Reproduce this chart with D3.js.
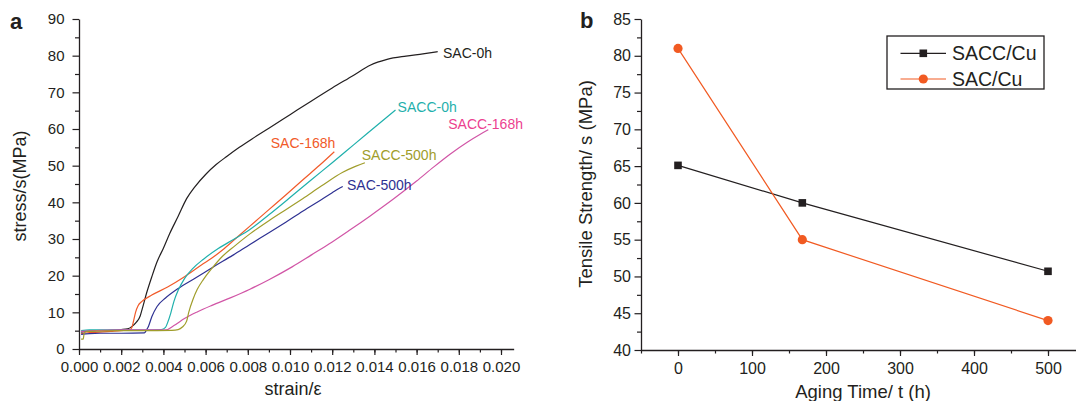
<!DOCTYPE html>
<html>
<head>
<meta charset="utf-8">
<script src="https://cdn.jsdelivr.net/npm/d3@7/dist/d3.min.js"></script>
<style>
  html, body { margin: 0; padding: 0; background: #fff; }
  svg { display: block; font-family: "Liberation Sans", Arial, sans-serif; }
</style>
</head>
<body>
<svg id="chart" width="1076" height="401"></svg>
<script>
// ---------- Panel a data: stress-strain curves [strain, stress(MPa)] ----------
const sac0h = [[0.0001,4.6],[0.0005,4.9],[0.001,5.0],[0.0015,5.1],[0.002,5.3],[0.0023,5.5],[0.0025,6.1],[0.0027,7.2],[0.0029,9.0],[0.0030,11.0],[0.0032,15.2],[0.00345,19.7],[0.0037,23.8],[0.004,27.5],[0.0043,31.5],[0.0047,36.2],[0.0051,41.0],[0.0055,44.3],[0.006,47.6],[0.0065,50.3],[0.007,52.5],[0.0076,55.0],[0.0082,57.3],[0.009,60.2],[0.01,63.9],[0.011,67.6],[0.012,71.2],[0.013,74.6],[0.0138,77.4],[0.0146,79.0],[0.0155,79.9],[0.0163,80.5],[0.017,81.1]];
const sac168h = [[0.0001,4.2],[0.0005,4.5],[0.001,4.6],[0.0015,4.8],[0.002,5.0],[0.0024,5.2],[0.0025,5.8],[0.00258,7.5],[0.00268,10.0],[0.0028,11.8],[0.00297,12.9],[0.00345,14.7],[0.0042,16.9],[0.005,19.7],[0.0058,22.9],[0.0063,24.8],[0.0068,27.0],[0.0074,30.0],[0.0081,33.5],[0.009,38.0],[0.0098,42.0],[0.0106,46.1],[0.0114,50.1],[0.0121,53.8]];
const sac500h = [[0.0001,4.0],[0.0005,4.2],[0.001,4.3],[0.002,4.3],[0.0031,4.4],[0.0032,5.2],[0.0033,6.3],[0.00345,8.8],[0.0037,11.6],[0.0041,13.9],[0.0047,16.5],[0.0055,19.3],[0.0064,22.5],[0.0073,25.6],[0.0081,28.5],[0.009,31.7],[0.0098,34.6],[0.0106,37.6],[0.0115,40.8],[0.012,42.6],[0.0123,43.7],[0.0125,44.3]];
const sacc0h = [[0.0001,5.0],[0.0005,5.2],[0.001,5.2],[0.002,5.2],[0.003,5.2],[0.0039,5.3],[0.0041,5.9],[0.0042,7.2],[0.00435,9.8],[0.0045,13.0],[0.0047,16.0],[0.005,19.2],[0.0054,22.0],[0.0059,24.5],[0.0066,27.4],[0.0073,29.8],[0.0081,32.6],[0.009,36.6],[0.01,41.3],[0.011,46.1],[0.012,50.8],[0.013,55.6],[0.014,60.4],[0.015,65.2]];
const sacc168h = [[0.0001,4.8],[0.001,5.1],[0.002,5.2],[0.003,5.2],[0.0041,5.2],[0.0045,6.4],[0.005,8.3],[0.0056,10.1],[0.0063,11.9],[0.0072,14.0],[0.0081,16.3],[0.009,18.9],[0.0101,22.4],[0.011,25.6],[0.012,29.2],[0.0128,32.3],[0.0138,36.3],[0.0149,40.9],[0.016,45.8],[0.0168,49.6],[0.0176,53.2],[0.0184,56.4],[0.019,58.5],[0.0194,59.8]];
const sacc500h = [[0.0001,2.7],[0.0002,2.7],[0.00025,4.4],[0.0004,4.8],[0.001,4.9],[0.002,5.0],[0.003,5.0],[0.0044,5.1],[0.0047,5.3],[0.0049,6.0],[0.0051,7.6],[0.0052,10.0],[0.0054,13.5],[0.0056,16.2],[0.0059,19.0],[0.0063,22.0],[0.0068,25.3],[0.0074,28.2],[0.0081,31.4],[0.009,35.0],[0.0098,38.0],[0.0106,41.0],[0.0115,44.5],[0.0125,48.2],[0.0131,49.8],[0.01355,50.8]];

const curveNames  = ["SAC-0h","SAC-168h","SAC-500h","SACC-0h","SACC-168h","SACC-500h"];
const curveData   = [sac0h, sac168h, sac500h, sacc0h, sacc168h, sacc500h];
const curveColors = ["#231f20","#f15a29","#2e3192","#1fb0ac","#d155a6","#a09d2b"];
const labelColors = ["#231f20","#f15a29","#2e3192","#1fb0ac","#ec3f8f","#a09d2b"];
// label anchor positions in data units [strain, stress], plus text anchor
const labelStrain = [0.01725, 0.01215, 0.01270, 0.01510, 0.01750, 0.01340];
const labelStress = [80.6, 56.2, 44.7, 66.0, 61.3, 53.0];
const labelAnchor = ["start","end","start","start","start","start"];

const strainTicks = [0.000,0.002,0.004,0.006,0.008,0.010,0.012,0.014,0.016,0.018,0.020];
const stressTicks = [0,10,20,30,40,50,60,70,80,90];

// ---------- Panel b data ----------
const agingTime = [0, 168, 500];
const saccCu = [65.1, 60.0, 50.7];
const sacCu  = [81.0, 55.0, 44.0];
const seriesNames = ["SACC/Cu","SAC/Cu"];
const timeTicks = [0,100,200,300,400,500];
const strengthTicks = [40,45,50,55,60,65,70,75,80,85];

const ink = "#231f20";
const svg = d3.select("#chart");

// ================= Panel a =================
const xA = d3.scaleLinear().domain([0, 0.0206]).range([79, 79 + 0.0206 * 21100]);
const yA = d3.scaleLinear().domain([0, 90]).range([349, 19]);
const gA = svg.append("g");

function styleAxis(g, fs) {
  g.select(".domain").attr("stroke", ink).attr("stroke-width", 1.3);
  g.selectAll(".tick line").attr("stroke", ink).attr("stroke-width", 1.2);
  g.selectAll(".tick text").attr("fill", ink).style("font-size", fs + "px");
}

// minor ticks
gA.append("g").attr("transform", "translate(0,349)")
  .call(d3.axisBottom(xA).tickValues(d3.range(0, 0.0206, 0.001)).tickSize(3.5).tickFormat(""))
  .call(g => { g.select(".domain").remove(); g.selectAll("line").attr("stroke", ink).attr("stroke-width", 1.2); });
gA.append("g").attr("transform", "translate(79,0)")
  .call(d3.axisLeft(yA).tickValues(d3.range(5, 90, 10)).tickSize(4).tickFormat(""))
  .call(g => { g.select(".domain").remove(); g.selectAll("line").attr("stroke", ink).attr("stroke-width", 1.2); });

gA.append("g").attr("transform", "translate(0,349)")
  .call(d3.axisBottom(xA).tickValues(strainTicks).tickFormat(d3.format(".3f")).tickSize(6).tickSizeOuter(0).tickPadding(6))
  .call(g => styleAxis(g, 15));
gA.append("g").attr("transform", "translate(79,0)")
  .call(d3.axisLeft(yA).tickValues(stressTicks).tickSize(6.5).tickSizeOuter(0).tickPadding(8))
  .call(g => styleAxis(g, 15));

const lineA = d3.line().x(d => xA(d[0])).y(d => yA(d[1])).curve(d3.curveMonotoneX);
curveData.forEach((data, i) => {
  gA.append("path").datum(data)
    .attr("fill", "none").attr("stroke", curveColors[i]).attr("stroke-width", 1.2)
    .attr("stroke-linejoin", "round").attr("d", lineA);
});
curveNames.forEach((name, i) => {
  gA.append("text").attr("x", xA(labelStrain[i])).attr("y", yA(labelStress[i]))
    .attr("dy", "0.35em").attr("text-anchor", labelAnchor[i])
    .attr("fill", labelColors[i]).style("font-size", "14px").text(name);
});

gA.append("text").attr("x", 293).attr("y", 395).attr("text-anchor", "middle")
  .attr("fill", ink).style("font-size", "18px").text("strain/ε");
gA.append("text").attr("transform", "translate(26,186) rotate(-90)").attr("text-anchor", "middle")
  .attr("fill", ink).style("font-size", "18px").text("stress/s(MPa)");
gA.append("text").attr("x", 10).attr("y", 29).attr("fill", ink)
  .style("font-size", "22px").style("font-weight", "bold").text("a");

// ================= Panel b =================
const xB = d3.scaleLinear().domain([-50, 550]).range([641, 641 + 600 * 0.74]);
const yB = d3.scaleLinear().domain([40, 85]).range([350, 19]);
const gB = svg.append("g");

gB.append("g").attr("transform", "translate(0,350)")
  .call(d3.axisBottom(xB).tickValues(d3.range(-50, 551, 50)).tickSize(3.5).tickFormat(""))
  .call(g => { g.select(".domain").remove(); g.selectAll("line").attr("stroke", ink).attr("stroke-width", 1.2); });
gB.append("g").attr("transform", "translate(641,0)")
  .call(d3.axisLeft(yB).tickValues(d3.range(42.5, 85, 5)).tickSize(4).tickFormat(""))
  .call(g => { g.select(".domain").remove(); g.selectAll("line").attr("stroke", ink).attr("stroke-width", 1.2); });

gB.append("g").attr("transform", "translate(0,350)")
  .call(d3.axisBottom(xB).tickValues(timeTicks).tickSize(6).tickSizeOuter(0).tickPadding(6.5))
  .call(g => styleAxis(g, 16));
gB.append("g").attr("transform", "translate(641,0)")
  .call(d3.axisLeft(yB).tickValues(strengthTicks).tickSize(6.5).tickSizeOuter(0).tickPadding(3.5))
  .call(g => styleAxis(g, 16));

const seriesB = [saccCu, sacCu];
const seriesColors = [ink, "#f15a22"];
const lineB = d3.line().x(d => xB(d[0])).y(d => yB(d[1]));
seriesB.forEach((vals, i) => {
  const pts = agingTime.map((t, j) => [t, vals[j]]);
  gB.append("path").datum(pts).attr("fill", "none")
    .attr("stroke", seriesColors[i]).attr("stroke-width", 1.2).attr("d", lineB);
  if (i === 0) {
    gB.selectAll(null).data(pts).enter().append("rect")
      .attr("x", d => xB(d[0]) - 3.8).attr("y", d => yB(d[1]) - 3.8)
      .attr("width", 7.6).attr("height", 7.6).attr("fill", seriesColors[i]);
  } else {
    gB.selectAll(null).data(pts).enter().append("circle")
      .attr("cx", d => xB(d[0])).attr("cy", d => yB(d[1])).attr("r", 4.6)
      .attr("fill", seriesColors[i]);
  }
});

// legend
const leg = gB.append("g");
leg.append("rect").attr("x", 887).attr("y", 36).attr("width", 157).attr("height", 53)
  .attr("fill", "#fff").attr("stroke", ink).attr("stroke-width", 1.3);
seriesNames.forEach((name, i) => {
  const y = 53.3 + i * 25.7;
  leg.append("line").attr("x1", 900.5).attr("x2", 946).attr("y1", y).attr("y2", y)
    .attr("stroke", seriesColors[i]).attr("stroke-width", 1.2);
  if (i === 0) {
    leg.append("rect").attr("x", 923.3 - 3.8).attr("y", y - 3.8).attr("width", 7.6).attr("height", 7.6).attr("fill", seriesColors[i]);
  } else {
    leg.append("circle").attr("cx", 923.3).attr("cy", y).attr("r", 4.6).attr("fill", seriesColors[i]);
  }
  leg.append("text").attr("x", 952).attr("y", y).attr("dy", "0.36em")
    .attr("fill", ink).style("font-size", "19.5px").text(name);
});

gB.append("text").attr("x", 863).attr("y", 398).attr("text-anchor", "middle")
  .attr("fill", ink).style("font-size", "18.5px").text("Aging Time/ t (h)");
gB.append("text").attr("transform", "translate(592,184) rotate(-90)").attr("text-anchor", "middle")
  .attr("fill", ink).style("font-size", "18.5px").text("Tensile Strength/ s (MPa)");
gB.append("text").attr("x", 580).attr("y", 28).attr("fill", ink)
  .style("font-size", "22px").style("font-weight", "bold").text("b");
</script>
</body>
</html>
